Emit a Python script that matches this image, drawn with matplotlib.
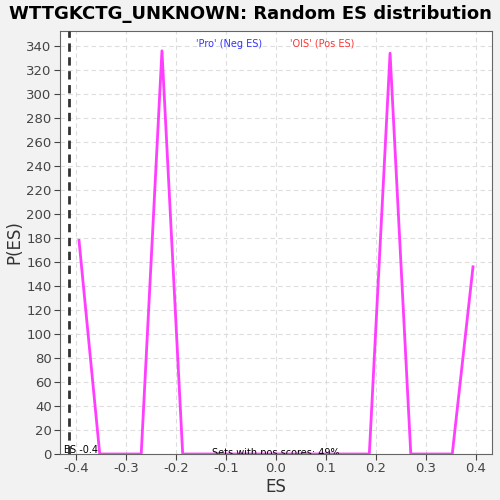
import numpy as np
import matplotlib
matplotlib.use("Agg")
import matplotlib.pyplot as plt

# random ES distribution
es_values = np.linspace(-0.394, 0.394, 20)
p_es = [178, 0, 0, 0, 336, 0, 0, 0, 0, 0, 0, 0, 0, 0, 0, 334, 0, 0, 0, 156]
actual_es = -0.414
pos_share = 49

y_ticks = list(range(0, 341, 20))
x_ticks = [-0.4, -0.3, -0.2, -0.1, 0.0, 0.1, 0.2, 0.3, 0.4]

fig = plt.figure(figsize=(5, 5), dpi=100, facecolor="#f2f2f2")
ax = fig.add_axes([0.12, 0.092, 0.864, 0.846])
ax.set_facecolor("white")

ax.plot(es_values, p_es, color="#ff33ff", linewidth=2, alpha=0.95, zorder=3)
ax.axvline(actual_es, color="#333333", linestyle=(0, (3, 2)), linewidth=2, zorder=4)

ax.set_xlim(-0.432, 0.432)
ax.set_ylim(0, 352.5)
ax.set_xticks(x_ticks)
ax.set_xticklabels([f"{t:.1f}" for t in x_ticks])
ax.set_yticks(y_ticks)
ax.tick_params(labelsize=9.5, colors="#444444", length=4, pad=2)
ax.grid(True, color="#dddddd", linestyle=(0, (4, 3)), linewidth=0.8)
ax.set_axisbelow(True)
for sp in ax.spines.values():
    sp.set_color("#666666")

ax.set_xlabel("ES", fontsize=12, color="#333333", labelpad=2)
ax.set_ylabel("P(ES)", fontsize=12, color="#333333", labelpad=2)
fig.suptitle("WTTGKCTG_UNKNOWN: Random ES distribution", fontsize=13, fontweight="bold", y=0.99)

ax.text(-0.094, 0.97, "'Pro' (Neg ES)", transform=ax.get_xaxis_transform(),
        color="#3333ff", fontsize=7, ha="center", va="center")
ax.text(0.092, 0.97, "'OIS' (Pos ES)", transform=ax.get_xaxis_transform(),
        color="#ff3333", fontsize=7, ha="center", va="center")
ax.text(-0.356, 3, f"Actual ES {actual_es:.1f}", fontsize=7, ha="right", va="center", clip_on=True)
ax.text(0.0, 1, f"Sets with pos scores: {pos_share}%", fontsize=7, ha="center", va="center", clip_on=True)

plt.savefig("out.png", dpi=100, facecolor=fig.get_facecolor())
